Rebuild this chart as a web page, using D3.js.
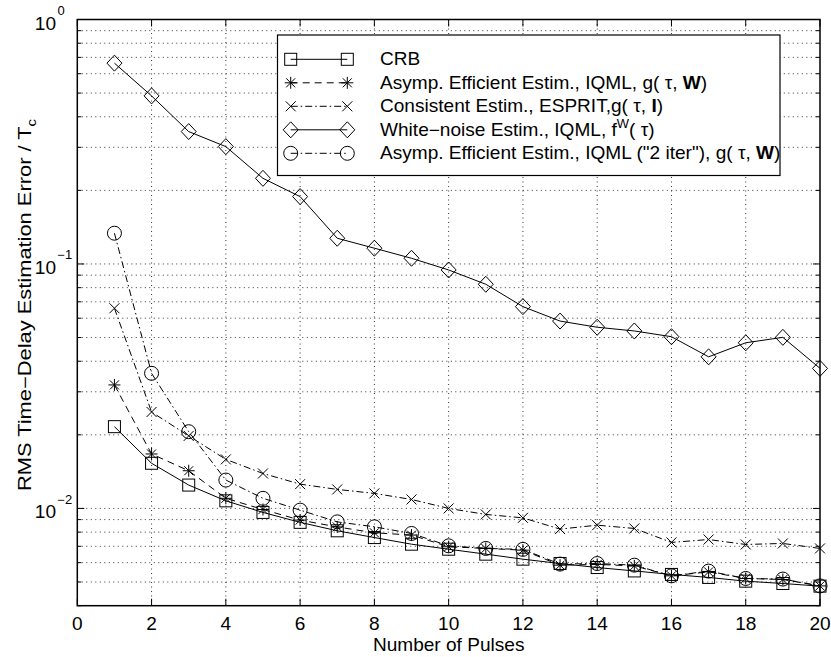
<!DOCTYPE html>
<html><head><meta charset="utf-8">
<script src="https://cdn.jsdelivr.net/npm/d3@7"></script>
<style>
body{margin:0;background:#fff;}
text{font-family:"Liberation Sans",Arial,Helvetica,sans-serif;fill:#000;}
</style></head>
<body><svg id="c" width="831" height="657"></svg>
<script>
const pulses = [1,2,3,4,5,6,7,8,9,10,11,12,13,14,15,16,17,18,19,20];
const crb = [0.0216,0.0153,0.01246,0.01074,0.00963,0.00877,0.0081,0.0076,0.00714,0.00681,0.0065,0.0062,0.00595,0.00573,0.00555,0.00537,0.00522,0.00504,0.00493,0.00481];
const asympEff = [0.032,0.0167,0.01426,0.011,0.0099,0.00896,0.0084,0.00795,0.00778,0.00697,0.00686,0.00675,0.00586,0.0059,0.00582,0.0053,0.0055,0.00517,0.00512,0.00482];
const esprit = [0.0659,0.0248,0.0198,0.01587,0.0139,0.01257,0.01196,0.01152,0.01088,0.0100,0.00945,0.00915,0.00823,0.00854,0.00828,0.00726,0.00746,0.00712,0.00719,0.00686];
const whiteNoise = [0.663,0.487,0.348,0.302,0.224,0.1886,0.1274,0.116,0.1055,0.0945,0.0826,0.0669,0.0584,0.0551,0.0532,0.0504,0.0417,0.0476,0.0501,0.0374];
const asympEff2 = [0.1336,0.0357,0.0206,0.01306,0.0110,0.00984,0.00881,0.00841,0.0079,0.00703,0.00686,0.0068,0.00592,0.00595,0.00586,0.0053,0.00554,0.00517,0.00514,0.00482];
const xTicks = [0,2,4,6,8,10,12,14,16,18,20];
const yMajorTicks = [0.01,0.1,1];
const yTickExponents = ["−2","−1","0"];
const xLabel = "Number of Pulses";
const yLabel = "RMS Time−Delay Estimation Error / T";

const series = [
  {name:"crb", values:crb, marker:"square", dash:null,
   label:[["CRB",""]]},
  {name:"asymp", values:asympEff, marker:"star", dash:"7,5",
   label:[["Asymp. Efficient Estim., IQML, g( τ, ",""],["W","b"],[")",""]]},
  {name:"esprit", values:esprit, marker:"x", dash:"7,3,1.5,3",
   label:[["Consistent Estim., ESPRIT,g( τ, ",""],["I","b"],[")",""]]},
  {name:"white", values:whiteNoise, marker:"diamond", dash:null,
   label:[["White−noise Estim., IQML, f",""],["W","sup"],["( τ)","down"]]},
  {name:"asymp2", values:asympEff2, marker:"circle", dash:"7,3,1.5,3",
   label:[["Asymp. Efficient Estim., IQML (\"2 iter\"), g( τ, ",""],["W","b"],[")",""]]}
];

const FS = 17.5, SX = 1.09, SXY = 1.25;
const svg = d3.select("#c");
const L=77.3, R=820, T=19.5, B=605.7;
const x = d3.scaleLinear().domain([0,20]).range([L,R]);
const y = d3.scaleLog().domain([0.004,1]).range([B,T]);

function txt(parent, px, py, anchor, segs, size, rot, sx){
  const gg = parent.append("g").attr("transform",`translate(${px},${py})${rot?" rotate(-90)":""} scale(${sx||SX},1)`);
  const t = gg.append("text").attr("text-anchor",anchor).attr("font-size",size);
  segs.forEach(([s,st])=>{
    const sp = t.append("tspan").text(s);
    if(st==="b") sp.attr("font-weight","bold");
    if(st==="sup") sp.attr("dy",-7.5).attr("font-size",size*0.68);
    if(st==="sub") sp.attr("dy",4.5).attr("font-size",size*0.68);
    if(st==="down") sp.attr("dy",7.5);
  });
  return t;
}

// grid
const g = svg.append("g");
const minorY = [];
[0.001,0.01,0.1].forEach(d=>{for(let k=1;k<10;k++){const v=d*k; if(v>=0.004 && v<=1) minorY.push(v);}});
minorY.push(1);
g.selectAll("line.gy").data(minorY.filter(v=>v<1 && v>0.004)).enter().append("line")
  .attr("x1",L).attr("x2",R).attr("y1",d=>y(d)).attr("y2",d=>y(d))
  .attr("stroke","#000").attr("stroke-width",0.8).attr("stroke-dasharray","1,3.5");
g.selectAll("line.gx").data(xTicks.filter(v=>v>0&&v<20)).enter().append("line")
  .attr("y1",T).attr("y2",B).attr("x1",d=>x(d)).attr("x2",d=>x(d))
  .attr("stroke","#000").attr("stroke-width",0.8).attr("stroke-dasharray","1,3.5");

// ticks inward on all sides
const tk = svg.append("g").attr("stroke","#000").attr("stroke-width",1);
xTicks.forEach(v=>{
  tk.append("line").attr("x1",x(v)).attr("x2",x(v)).attr("y1",B).attr("y2",B-7);
  tk.append("line").attr("x1",x(v)).attr("x2",x(v)).attr("y1",T).attr("y2",T+7);
});
minorY.forEach(v=>{
  const len = yMajorTicks.includes(v)?7:4;
  tk.append("line").attr("x1",L).attr("x2",L+len).attr("y1",y(v)).attr("y2",y(v));
  tk.append("line").attr("x1",R).attr("x2",R-len).attr("y1",y(v)).attr("y2",y(v));
});

// frame
svg.append("rect").attr("x",L).attr("y",T).attr("width",R-L).attr("height",B-T)
  .attr("fill","none").attr("stroke","#000").attr("stroke-width",1.5);

// tick labels
xTicks.forEach(v=>txt(svg, x(v), 629.5, "middle", [[String(v),""]], FS));
yMajorTicks.forEach((v,i)=>{
  txt(svg, 56, y(v)+10, "end", [["10",""]], FS);
  txt(svg, 57.5, y(v)-4.5, "start", [[yTickExponents[i],""]], FS*0.68);
});

txt(svg, (L+R)/2, 651, "middle", [[xLabel,""]], FS);
txt(svg, 31, 305, "middle", [[yLabel,""],["c","sub"]], FS, true, SXY);

// markers
function marker(sel, type, cx, cy){
  const s = sel.append("g").attr("transform",`translate(${cx},${cy})`)
    .attr("fill","none").attr("stroke","#000").attr("stroke-width",1);
  if(type==="square") s.append("rect").attr("x",-6).attr("y",-6).attr("width",12).attr("height",12);
  if(type==="diamond") s.append("path").attr("d","M0,-8L7.5,0L0,8L-7.5,0Z");
  if(type==="circle") s.append("circle").attr("r",7);
  if(type==="x") s.append("path").attr("d","M-5,-5L5,5M-5,5L5,-5");
  if(type==="star") s.append("path").attr("d","M-6,0L6,0M0,-6L0,6M-4.5,-4.5L4.5,4.5M-4.5,4.5L4.5,-4.5");
}
const line = d3.line().x((d,i)=>x(pulses[i])).y(d=>y(d));
const plot = svg.append("g");
series.forEach(s=>{
  plot.append("path").attr("d",line(s.values)).attr("fill","none").attr("stroke","#000")
    .attr("stroke-width",1).attr("stroke-dasharray",s.dash);
  s.values.forEach((v,i)=>marker(plot,s.marker,x(pulses[i]),y(v)));
});

// legend
const lg = svg.append("g");
lg.append("rect").attr("x",277.5).attr("y",35).attr("width",502.5).attr("height",140.5)
  .attr("fill","#fff").attr("stroke","#000").attr("stroke-width",1.2);
series.forEach((s,i)=>{
  const yy = 59.3 + i*23.5;
  lg.append("line").attr("x1",290.7).attr("x2",347.3).attr("y1",yy).attr("y2",yy)
    .attr("stroke","#000").attr("stroke-dasharray",s.dash);
  marker(lg,s.marker,290.7,yy); marker(lg,s.marker,347.3,yy);
  txt(lg, 380, yy+6, "start", s.label, FS);
});
</script></body></html>
